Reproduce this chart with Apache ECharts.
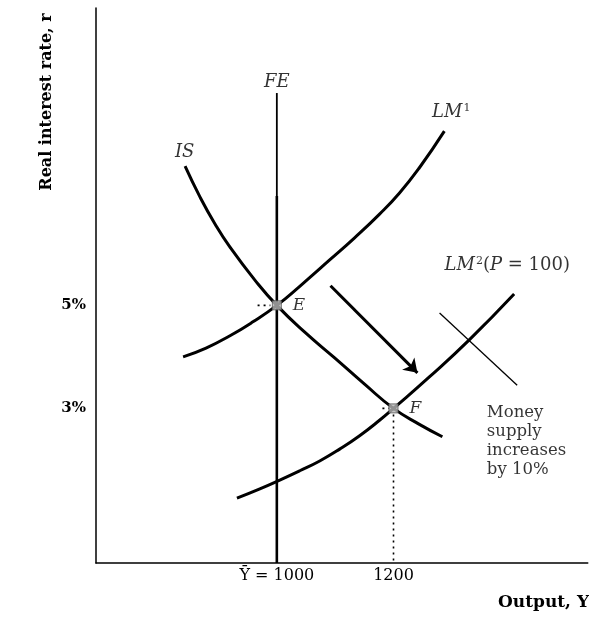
<!DOCTYPE html>
<html><head><meta charset="utf-8">
<script src="https://cdn.jsdelivr.net/npm/echarts@6/dist/echarts.min.js"></script>
<style>html,body{margin:0;padding:0;background:#fff}#c{width:589px;height:623px}</style>
</head><body><div id="c"></div>
<script>
// ---- data (output Y, real interest rate r in %) ----
const isCurve  = [[842.7,7.70],[868.4,7.10],[894.0,6.58],[919.7,6.13],[962.4,5.49],[1000,5.00],[1047.9,4.48],[1099.1,3.98],[1150.4,3.47],[1200,3.00],[1244.4,2.69],[1283.8,2.45]];
const lm1Curve = [[839.3,4.00],[878.6,4.17],[919.7,4.41],[959.0,4.68],[1000,5.00],[1039.3,5.37],[1090.6,5.88],[1133.3,6.31],[1176.1,6.77],[1210.3,7.18],[1244.4,7.67],[1287.2,8.38]];
const lm2Curve = [[931.6,1.26],[970.9,1.44],[1005.1,1.61],[1039.3,1.79],[1073.5,1.98],[1107.7,2.21],[1141.9,2.47],[1176.1,2.77],[1200,3.00],[1261.5,3.61],[1329.9,4.33],[1406.8,5.22]];
const feUpper  = [[1000,9.12],[1000,7.12]];
const feLower  = [[1000,7.12],[1000,0]];
const equilibria = [[1000,5],[1200,3]];
const equilibriumNames = ['E','F'];
const shiftArrow = [[1092,5.38],[1241,3.69]];
const pointerLine = [[1279,4.85],[1412,3.45]];
const guideF = [[1200,3],[1200,0]];
const guideE = [[967,5],[989,5]];
const guideF2 = [[1181,3],[1193,3]];
const yTickLabels = {5:'5%',3:'3%'};
const xTickLabels = {1000:'Ȳ = 1000',1200:'1200'};
const curveLabels = ['FE','IS','LM¹','LM²(P = 100)'];
const curveLabelAt = [[1000,9.33],[842,7.96],[1299,8.75],[1395,5.78]];
const noteText = 'Money\nsupply\nincreases\nby 10%';
const noteAt = [1360,2.37];

const serif = 'DejaVu Serif';
const chart = echarts.init(document.getElementById('c'));
const lineS = (data, w, extra) => Object.assign({type:'line', data, symbol:'none', silent:true,
  lineStyle:{color:'#000', width:w}, z:3}, extra||{});
const richLM = {i:{fontFamily:serif,fontStyle:'italic',fontSize:18,color:'#000'},
  s:{fontFamily:serif,fontSize:11,color:'#000',verticalAlign:'top',padding:[0,0,8,1]},
  n:{fontFamily:serif,fontSize:18,color:'#000'}};
function fmtCurve(t){
  if (t==='LM¹') return '{i|LM}{s|1}';
  if (t.indexOf('LM²')===0) return '{i|LM}{s|2}{n|(}{i|P}{n| = 100)}';
  return '{i|'+t+'}';
}
chart.setOption({
  animation:false,
  backgroundColor:'#fff',
  grid:{left:96, right:0, top:8, bottom:60},
  xAxis:{type:'value', min:690, max:1533, interval:10,
    axisLine:{lineStyle:{color:'#000',width:1.5}}, axisTick:{show:false}, splitLine:{show:false},
    axisLabel:{interval:0, showMaxLabel:false, showMinLabel:false, margin:5, color:'#000',
      fontFamily:serif, fontSize:16, formatter:v=>xTickLabels[v]||''}},
  yAxis:{type:'value', min:0, max:10.77, interval:1,
    axisLine:{show:true, lineStyle:{color:'#000',width:1.5}}, axisTick:{show:false}, splitLine:{show:false},
    axisLabel:{showMaxLabel:false, margin:10, color:'#000', fontFamily:serif, fontSize:15, fontWeight:'bold',
      formatter:v=>yTickLabels[v]||''}},
  graphic:[
    {type:'text', x:47, y:102, rotation:Math.PI/2,
      style:{text:'Real interest rate, r', fontFamily:serif, fontSize:16, fontWeight:'bold', fill:'#000',
        align:'center', verticalAlign:'middle'}},
    {type:'text', x:498, y:603,
      style:{text:'Output, Y', fontFamily:serif, fontSize:17, fontWeight:'bold', fill:'#000',
        align:'left', verticalAlign:'middle'}}
  ],
  series:[
    lineS(isCurve, 3, {smooth:true}),
    lineS(lm1Curve, 3, {smooth:true}),
    lineS(lm2Curve, 3, {smooth:true}),
    lineS(feUpper, 1.8),
    lineS(feLower, 2.6),
    lineS(pointerLine, 1.3),
    lineS(guideF, 1.6, {lineStyle:{color:'#000',width:1.6,type:[2,4]}}),
    lineS(guideE, 1.6, {lineStyle:{color:'#000',width:1.6,type:[2,4]}}),
    lineS(guideF2, 1.6, {lineStyle:{color:'#000',width:1.6,type:[2,4]}}),
    {type:'lines', coordinateSystem:'cartesian2d', silent:true, z:4,
      symbol:['none','arrow'], symbolSize:[0,13],
      lineStyle:{color:'#000', width:3, opacity:1},
      data:[{coords:shiftArrow}]},
    {type:'scatter', data:equilibria, symbol:'rect', symbolSize:9, z:6, silent:true,
      itemStyle:{color:'#b5b5b5', borderColor:'#555', borderWidth:1},
      label:{show:true, position:'right', distance:11, color:'#000', fontFamily:serif,
        fontStyle:'italic', fontSize:17, formatter:p=>equilibriumNames[p.dataIndex]}},
    {type:'scatter', symbolSize:0, silent:true, z:7,
      data:curveLabels.map((t,i)=>({value:curveLabelAt[i], name:t})),
      label:{show:true, position:'inside', formatter:p=>fmtCurve(p.name), rich:richLM}},
    {type:'scatter', symbolSize:0, silent:true, z:7,
      data:[{value:noteAt}],
      label:{show:true, position:'inside', align:'left', formatter:noteText, color:'#000',
        fontFamily:serif, fontSize:16.5, lineHeight:19}}
  ]
});
</script></body></html>
